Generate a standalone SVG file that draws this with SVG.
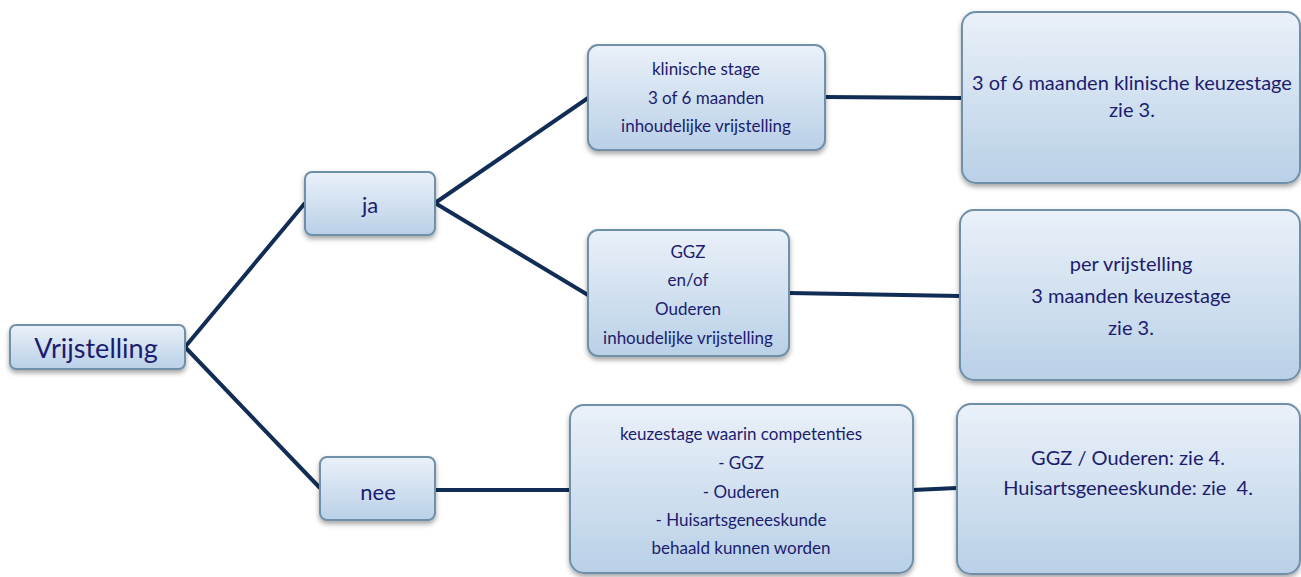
<svg xmlns="http://www.w3.org/2000/svg" width="1301" height="577" viewBox="0 0 1301 577">
<style>
.box{fill:url(#g);stroke:#6f8fa8;stroke-width:2;filter:url(#sh)}
text{font-family:Lato,"Open Sans","Liberation Sans",sans-serif;fill:#1c1c6e;text-anchor:middle;dominant-baseline:central}
.s{font-size:17px}
.m{font-size:20px}
.l{font-size:22px}
.xl{font-size:27px}
.c{fill:none;stroke:#112d55;stroke-width:4}
</style>
<defs>
<linearGradient id="g" x1="0" y1="0" x2="0" y2="1">
<stop offset="0" stop-color="#eaf1f9"/>
<stop offset="1" stop-color="#b9d0e7"/>
</linearGradient>
<filter id="sh" x="-10%" y="-10%" width="120%" height="130%">
<feDropShadow dx="0" dy="3" stdDeviation="2.5" flood-color="#000" flood-opacity="0.35"/>
</filter>
</defs>
<rect width="1301" height="577" fill="#fff"/>
<g id="connectors">
<path class="c" d="M185,347 L305,203"/>
<path class="c" d="M185,347 L320,488"/>
<path class="c" d="M435,203 L588,98"/>
<path class="c" d="M435,203 L588,295"/>
<path class="c" d="M435,490 L570,490"/>
<path class="c" d="M825,97 L962,98"/>
<path class="c" d="M789,293 L960,296"/>
<path class="c" d="M913,490 L957,488"/>
</g>
<g id="vrijstelling"><rect class="box" x="10" y="325" width="175" height="44" rx="6"/><text class="xl" x="96" y="347">Vrijstelling</text></g>
<g id="ja"><rect class="box" x="305" y="172" width="130" height="63" rx="7"/><text class="l" x="370" y="204">ja</text></g>
<g id="nee"><rect class="box" x="320" y="457" width="115" height="63" rx="7"/><text class="l" x="378" y="491">nee</text></g>
<g id="klinisch"><rect class="box" x="588" y="45" width="237" height="105" rx="10"/>
<text class="s" x="706" y="68">klinische stage</text><text class="s" x="706" y="97">3 of 6 maanden</text><text class="s" x="706" y="125">inhoudelijke vrijstelling</text></g>
<g id="ggz"><rect class="box" x="588" y="230" width="201" height="126" rx="10"/>
<text class="s" x="688" y="251">GGZ</text><text class="s" x="688" y="279">en/of</text><text class="s" x="688" y="308">Ouderen</text><text class="s" x="688" y="337">inhoudelijke vrijstelling</text></g>
<g id="keuzestage"><rect class="box" x="570" y="405" width="343" height="168" rx="14"/>
<text class="s" x="741" y="433">keuzestage waarin competenties</text><text class="s" x="741" y="462">- GGZ</text><text class="s" x="741" y="491">- Ouderen</text><text class="s" x="741" y="519">- Huisartsgeneeskunde</text><text class="s" x="741" y="547">behaald kunnen worden</text></g>
<g id="r1"><rect class="box" x="962" y="12" width="338" height="171" rx="14"/>
<text class="m" x="1132" y="82">3 of 6 maanden klinische keuzestage</text><text class="m" x="1132" y="109">zie 3.</text></g>
<g id="r2"><rect class="box" x="960" y="210" width="340" height="170" rx="14"/>
<text class="m" x="1131" y="263">per vrijstelling</text><text class="m" x="1131" y="295">3 maanden keuzestage</text><text class="m" x="1131" y="327">zie 3.</text></g>
<g id="r3"><rect class="box" x="957" y="404" width="343" height="170" rx="14"/>
<text class="m" x="1128" y="457">GGZ / Ouderen: zie 4.</text><text class="m" x="1128" y="487">Huisartsgeneeskunde: zie&#160; 4.</text></g>
</svg>
